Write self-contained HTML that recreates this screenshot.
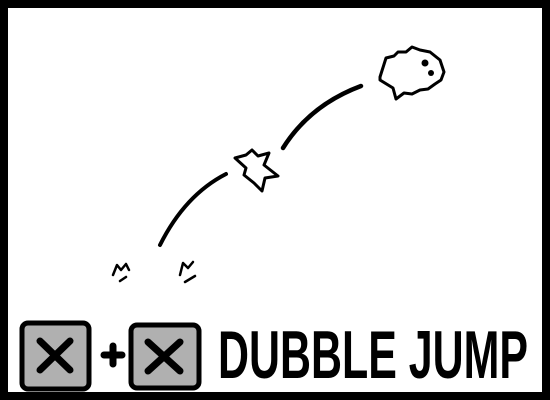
<!DOCTYPE html>
<html><head><meta charset="utf-8"><style>
html,body{margin:0;padding:0;background:#000;}
svg{display:block}
</style></head><body>
<svg width="550" height="400" viewBox="0 0 550 400">
<rect x="0" y="0" width="550" height="400" fill="#000"/>
<rect x="8" y="8" width="534" height="384" fill="#fff"/>
<g fill="none" stroke="#000" stroke-linecap="round" stroke-linejoin="round">
  <path d="M160 245 Q185 195 226 174" stroke-width="4"/>
  <path d="M283 148 Q310 105 361 86" stroke-width="4.5"/>
  <path d="M235 158 L246 155 L252 150 L258 156 L269 153 L264 165 L278 176 L265 178 L262 191 L254 183 L244 175 L246 168 Z" stroke-width="3"/>
  <path d="M380 77 L386 58 L394 56 L398 52 L406 52 L412 47 L420 50 L430 52 L440 60 L444 72 L441 80 L435 84 L428 89 L420 90 L412 94 L404 93 L396 99 L393 88 L380 80 Z" stroke-width="3"/>
  <path d="M113 275 L117 265 L121 270 L126 264 L129 270 M120 281 L126 277" stroke-width="2.5"/>
  <path d="M180 275 L183 263 L188 268 L193 262 M185 282 L195 276" stroke-width="2.5"/>
</g>
<circle cx="425" cy="63" r="3.5" fill="#000"/>
<circle cx="431" cy="73" r="3" fill="#000"/>
<g>
  <rect x="22" y="323" width="67" height="66" rx="6" fill="#b0b0b0" stroke="#000" stroke-width="5"/>
  <path d="M40 341 L70 370 M70 341 L40 370" stroke="#000" stroke-width="7" stroke-linecap="round"/>
</g>
<path d="M104 355 L122 355 M113 346 L113 364" stroke="#000" stroke-width="7" stroke-linecap="round"/>
<g>
  <rect x="131" y="325" width="68" height="63" rx="6" fill="#b0b0b0" stroke="#000" stroke-width="5"/>
  <path d="M148 342 L180 371 M180 342 L148 371" stroke="#000" stroke-width="7" stroke-linecap="round"/>
</g>
<text x="218" y="378" font-family="Liberation Sans, sans-serif" font-weight="bold" font-size="68" textLength="310" lengthAdjust="spacingAndGlyphs" fill="#000">DUBBLE JUMP</text>
</svg>
</body></html>
